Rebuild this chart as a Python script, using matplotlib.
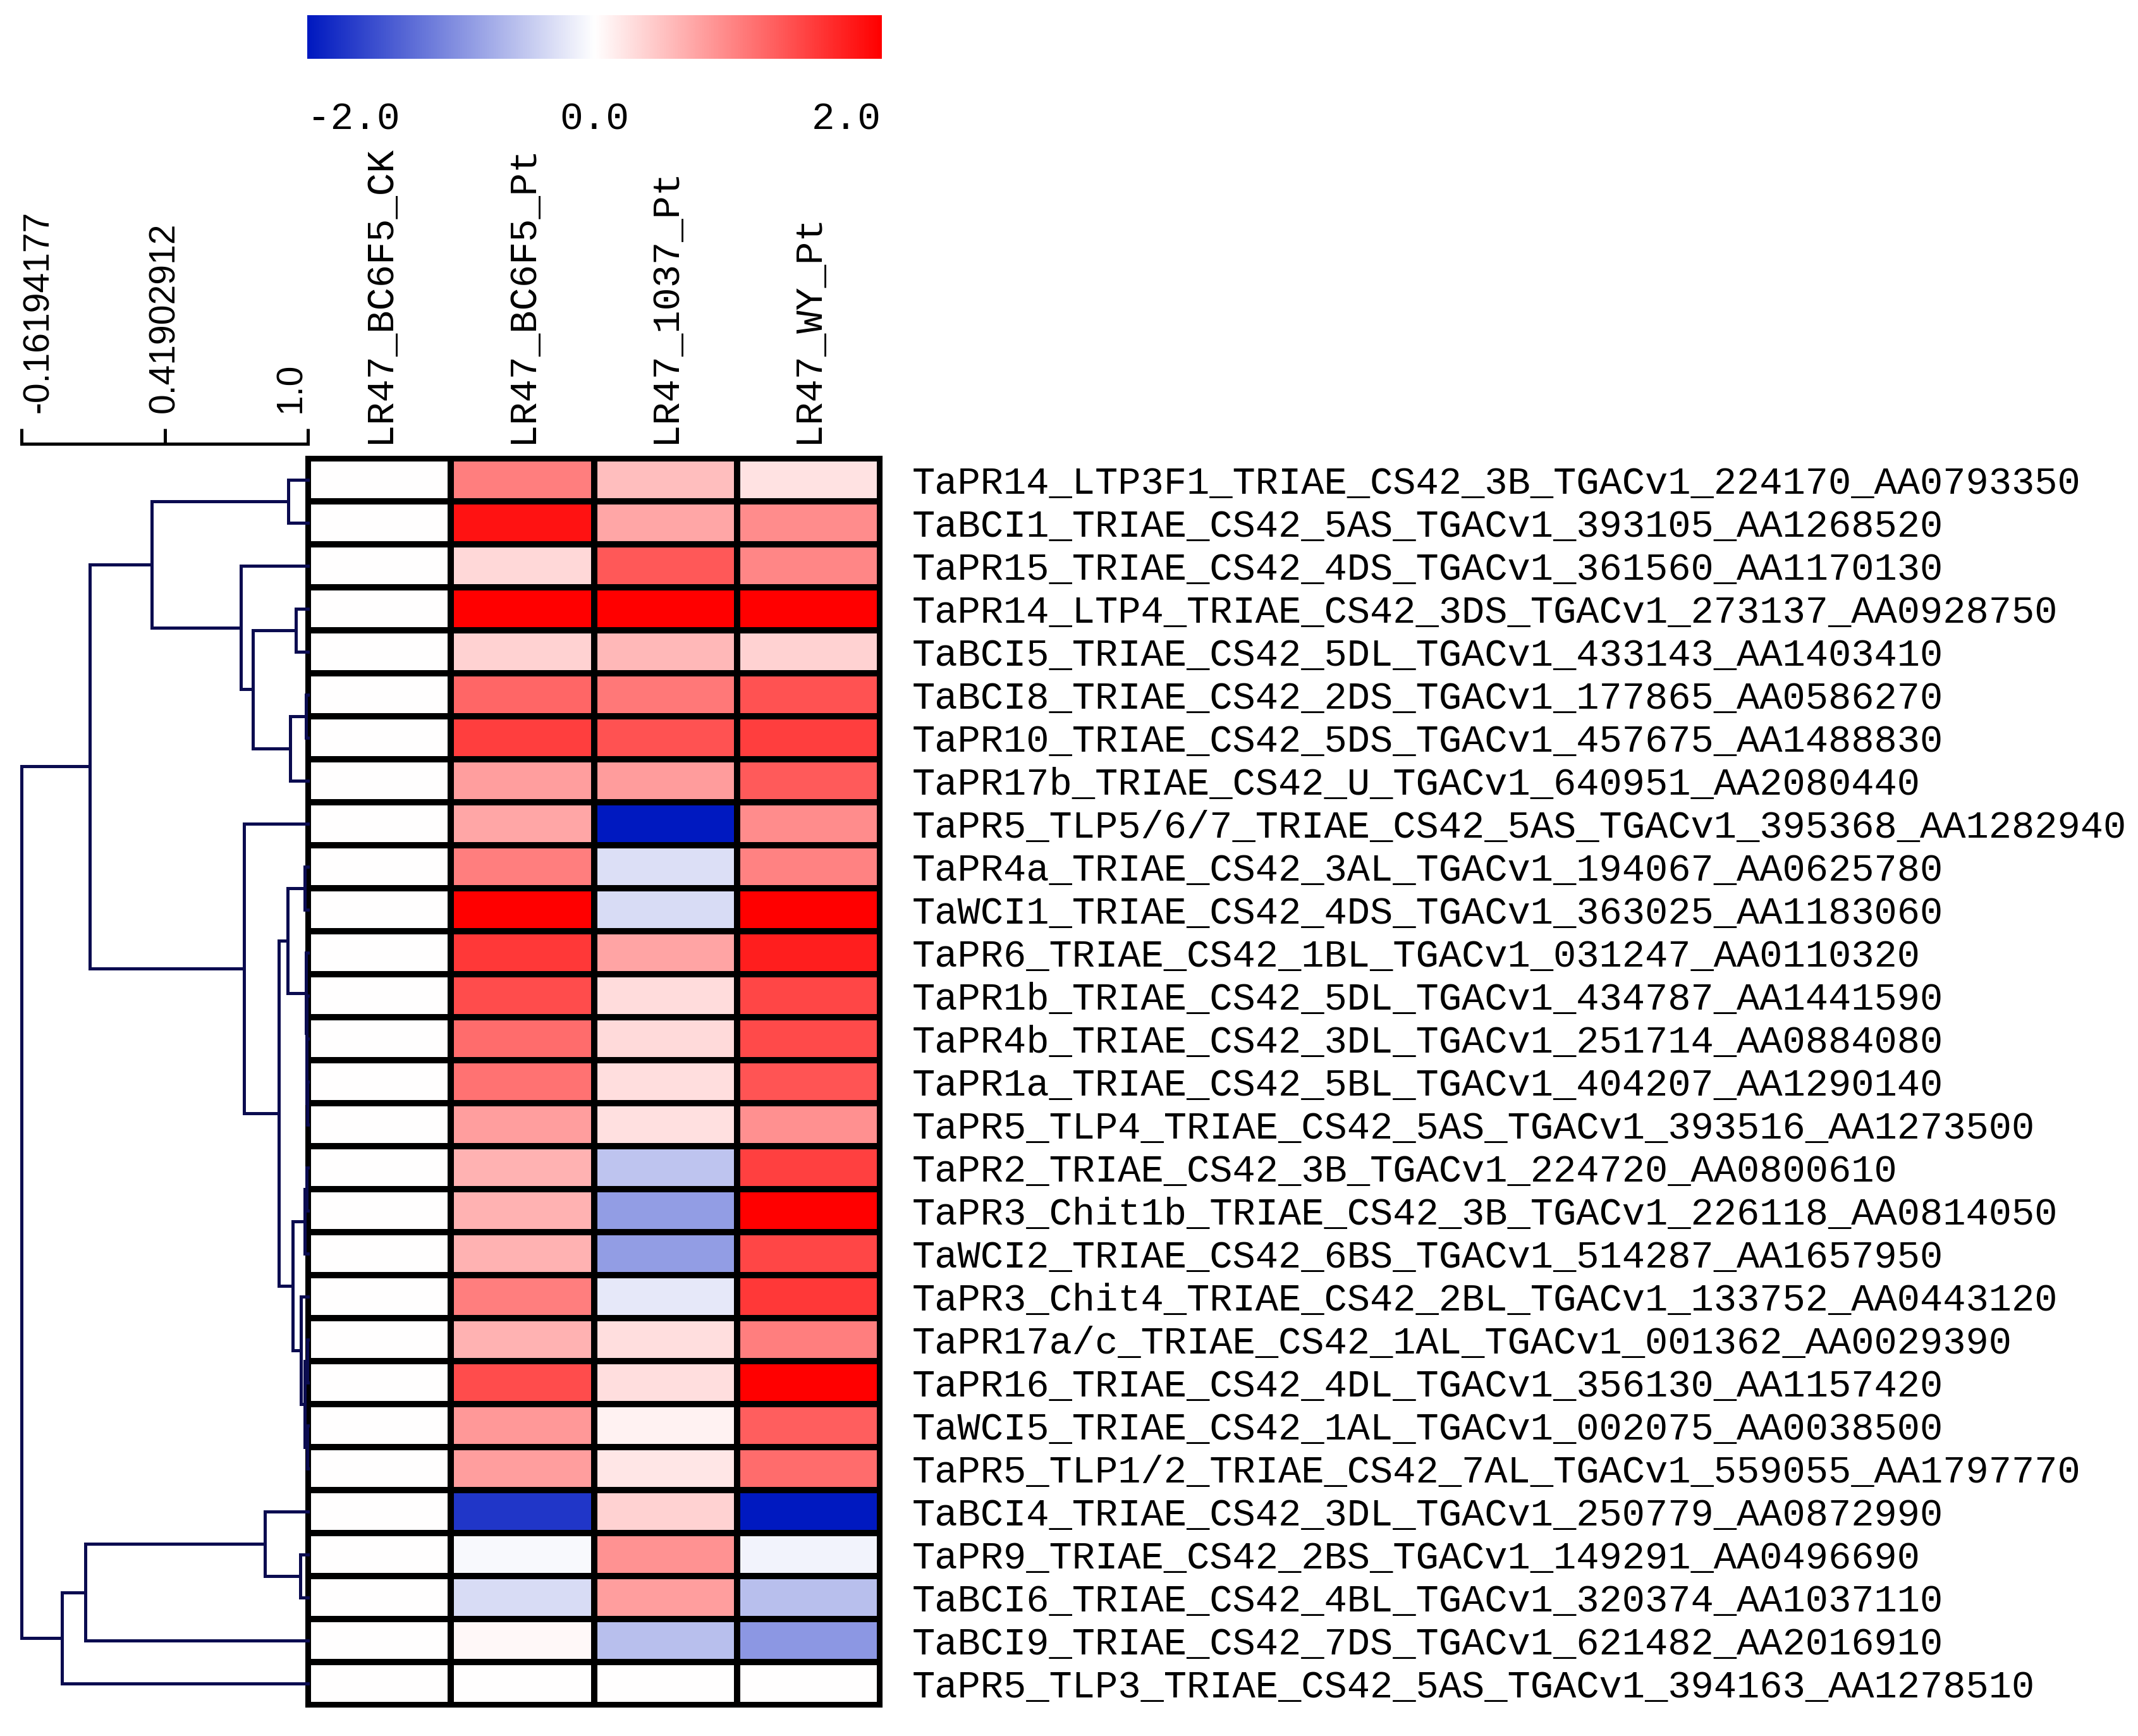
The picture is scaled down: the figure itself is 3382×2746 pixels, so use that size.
import numpy as np
import matplotlib
matplotlib.use("Agg")
import matplotlib.pyplot as plt
from matplotlib.colors import LinearSegmentedColormap
from matplotlib.collections import LineCollection
import matplotlib.transforms as mtransforms

# ---------------- data ----------------
samples = ["LR47_BC6F5_CK", "LR47_BC6F5_Pt", "LR47_1037_Pt", "LR47_WY_Pt"]

genes = [
    "TaPR14_LTP3F1_TRIAE_CS42_3B_TGACv1_224170_AA0793350",
    "TaBCI1_TRIAE_CS42_5AS_TGACv1_393105_AA1268520",
    "TaPR15_TRIAE_CS42_4DS_TGACv1_361560_AA1170130",
    "TaPR14_LTP4_TRIAE_CS42_3DS_TGACv1_273137_AA0928750",
    "TaBCI5_TRIAE_CS42_5DL_TGACv1_433143_AA1403410",
    "TaBCI8_TRIAE_CS42_2DS_TGACv1_177865_AA0586270",
    "TaPR10_TRIAE_CS42_5DS_TGACv1_457675_AA1488830",
    "TaPR17b_TRIAE_CS42_U_TGACv1_640951_AA2080440",
    "TaPR5_TLP5/6/7_TRIAE_CS42_5AS_TGACv1_395368_AA1282940",
    "TaPR4a_TRIAE_CS42_3AL_TGACv1_194067_AA0625780",
    "TaWCI1_TRIAE_CS42_4DS_TGACv1_363025_AA1183060",
    "TaPR6_TRIAE_CS42_1BL_TGACv1_031247_AA0110320",
    "TaPR1b_TRIAE_CS42_5DL_TGACv1_434787_AA1441590",
    "TaPR4b_TRIAE_CS42_3DL_TGACv1_251714_AA0884080",
    "TaPR1a_TRIAE_CS42_5BL_TGACv1_404207_AA1290140",
    "TaPR5_TLP4_TRIAE_CS42_5AS_TGACv1_393516_AA1273500",
    "TaPR2_TRIAE_CS42_3B_TGACv1_224720_AA0800610",
    "TaPR3_Chit1b_TRIAE_CS42_3B_TGACv1_226118_AA0814050",
    "TaWCI2_TRIAE_CS42_6BS_TGACv1_514287_AA1657950",
    "TaPR3_Chit4_TRIAE_CS42_2BL_TGACv1_133752_AA0443120",
    "TaPR17a/c_TRIAE_CS42_1AL_TGACv1_001362_AA0029390",
    "TaPR16_TRIAE_CS42_4DL_TGACv1_356130_AA1157420",
    "TaWCI5_TRIAE_CS42_1AL_TGACv1_002075_AA0038500",
    "TaPR5_TLP1/2_TRIAE_CS42_7AL_TGACv1_559055_AA1797770",
    "TaBCI4_TRIAE_CS42_3DL_TGACv1_250779_AA0872990",
    "TaPR9_TRIAE_CS42_2BS_TGACv1_149291_AA0496690",
    "TaBCI6_TRIAE_CS42_4BL_TGACv1_320374_AA1037110",
    "TaBCI9_TRIAE_CS42_7DS_TGACv1_621482_AA2016910",
    "TaPR5_TLP3_TRIAE_CS42_5AS_TGACv1_394163_AA1278510",
]

bc6f5_ck = [0.0] * 29
bc6f5_pt = [1.0, 1.85, 0.3, 2.0, 0.35, 1.2, 1.5, 0.75, 0.7, 1.0,
            2.0, 1.55, 1.4, 1.15, 1.1, 0.75, 0.6, 0.6, 0.6, 1.0,
            0.6, 1.4, 0.8, 0.75, -1.75, -0.05, -0.3, 0.05, 0.0]
lr1037_pt = [0.5, 0.7, 1.3, 2.0, 0.55, 1.05, 1.35, 0.78, -2.0, -0.27,
             -0.31, 0.71, 0.27, 0.29, 0.26, 0.24, -0.51, -0.85, -0.85, -0.2,
             0.25, 0.25, 0.1, 0.2, 0.35, 0.85, 0.75, -0.55, 0.0]
wy_pt = [0.22, 0.9, 0.95, 2.0, 0.35, 1.35, 1.5, 1.29, 0.9, 0.98,
         2.0, 1.76, 1.45, 1.41, 1.33, 0.86, 1.49, 2.0, 1.45, 1.55,
         1.0, 2.0, 1.25, 1.15, -2.0, -0.1, -0.55, -0.9, 0.0]

# hierarchical clustering (leaf ids 0..28, new nodes 29..), similarity of merge
merge_left = [0, 3, 5, 31, 30, 2, 29, 9, 14, 13, 12, 11, 36, 16, 42, 20, 22, 44,
              19, 43, 41, 8, 35, 25, 24, 53, 54, 51]
merge_right = [1, 4, 6, 7, 32, 33, 34, 10, 15, 37, 38, 39, 40, 17, 18, 21, 23, 45,
               46, 47, 48, 49, 50, 26, 52, 27, 28, 55]
merge_sim = [0.920, 0.951, 0.992, 0.928, 0.778, 0.729, 0.367, 0.987, 0.998, 0.996,
             0.994, 0.992, 0.917, 0.995, 0.987, 0.997, 0.997, 0.987, 0.972, 0.938,
             0.881, 0.742, 0.116, 0.969, 0.825, 0.096, 0.003, -0.16194177]

scale_ticks = [-0.16194177, 0.41902912, 1.0]
scale_labels = ["-0.16194177", "0.41902912", "1.0"]

cbar_ticks = [-2.0, 0.0, 2.0]
cbar_labels = ["-2.0", "0.0", "2.0"]

# ---------------- figure ----------------
W, H, DPI = 3382, 2746, 200
fig = plt.figure(figsize=(W / DPI, H / DPI), dpi=DPI)
fig.patch.set_facecolor("white")


def px_axes(x0, y0, x1, y1):
    return fig.add_axes([x0 / W, 1 - y1 / H, (x1 - x0) / W, (y1 - y0) / H])


MONO = "Liberation Mono"
FS = 21.8
GRID_LW = 2.9
TREE_LW = 1.8
cmap = LinearSegmentedColormap.from_list("bwr_custom", ["#0019C0", "#FFFFFF", "#FF0000"])

data = np.column_stack([bc6f5_ck, bc6f5_pt, lr1037_pt, wy_pt])
n_rows, n_cols = data.shape

# heatmap
ax = px_axes(487, 725, 1392, 2697)
ax.pcolormesh(np.arange(n_cols + 1), np.arange(n_rows + 1), data, cmap=cmap,
              vmin=-2, vmax=2, edgecolors="black", linewidth=GRID_LW)
ax.set_xlim(0, n_cols)
ax.set_ylim(n_rows, 0)
for sp in ax.spines.values():
    sp.set_linewidth(GRID_LW)
    sp.set_color("black")
ax.set_xticks(np.arange(n_cols) + 0.5)
ax.set_xticklabels(samples, rotation=90, fontfamily=MONO, fontsize=FS)
ax.xaxis.tick_top()
ax.tick_params(axis="x", length=0, pad=8.6)
ax.set_yticks(np.arange(n_rows) + 0.5)
ax.set_yticklabels(genes, fontfamily=MONO, fontsize=FS)
ax.yaxis.tick_right()
ax.tick_params(axis="y", length=0, pad=18.4)

# dendrogram
axd = px_axes(34, 725, 487, 2697)
axd.set_xlim(scale_ticks[0], 1.0)
axd.set_ylim(n_rows, 0)
axd.axis("off")
pos = {i: i + 0.5 for i in range(n_rows)}
hgt = {i: 1.0 for i in range(n_rows)}
segs = []
for k, (a, b, s) in enumerate(zip(merge_left, merge_right, merge_sim)):
    node = n_rows + k
    ya, yb = pos[a], pos[b]
    segs.append([(s, ya), (s, yb)])
    segs.append([(s, ya), (hgt[a], ya)])
    segs.append([(s, yb), (hgt[b], yb)])
    pos[node] = (ya + yb) / 2
    hgt[node] = s
lc = LineCollection(segs, colors="#0b0c50", linewidths=TREE_LW, capstyle="projecting",
                    joinstyle="miter", clip_on=False)
axd.add_collection(lc)

# dendrogram scale bar
axs = px_axes(34, 678, 487, 702)
axs.set_xlim(scale_ticks[0], 1.0)
axs.set_ylim(0, 1)
axs.axis("off")
axs.plot([scale_ticks[0], scale_ticks[-1]], [0, 0], color="black", lw=TREE_LW,
         solid_capstyle="projecting", clip_on=False)
for t in scale_ticks:
    axs.plot([t, t], [0, 1], color="black", lw=TREE_LW, solid_capstyle="butt", clip_on=False)
for t, lab, ha in zip(scale_ticks, scale_labels, ["left", "center", "right"]):
    axs.annotate(lab, xy=(t, 0), xytext=(0, 17.6), textcoords="offset points",
                 rotation=90, ha=ha, va="bottom", fontsize=20.5,
                 fontfamily="Liberation Sans", color="black")

# colour bar
axc = px_axes(486, 24, 1394, 93)
grad = np.linspace(cbar_ticks[0], cbar_ticks[-1], 512).reshape(1, -1)
axc.imshow(grad, cmap=cmap, vmin=-2, vmax=2, aspect="auto",
           extent=[cbar_ticks[0], cbar_ticks[-1], 0, 1])
axc.set_xlim(cbar_ticks[0], cbar_ticks[-1])
axc.axis("off")
trans = mtransforms.blended_transform_factory(axc.transData, axc.transAxes)
for t, lab, ha in zip(cbar_ticks, cbar_labels, ["left", "center", "right"]):
    axc.text(t, -1.62, lab, transform=trans, ha=ha, va="baseline",
             fontfamily=MONO, fontsize=22, color="black")

fig.savefig("out.png", dpi=DPI, facecolor="white")
